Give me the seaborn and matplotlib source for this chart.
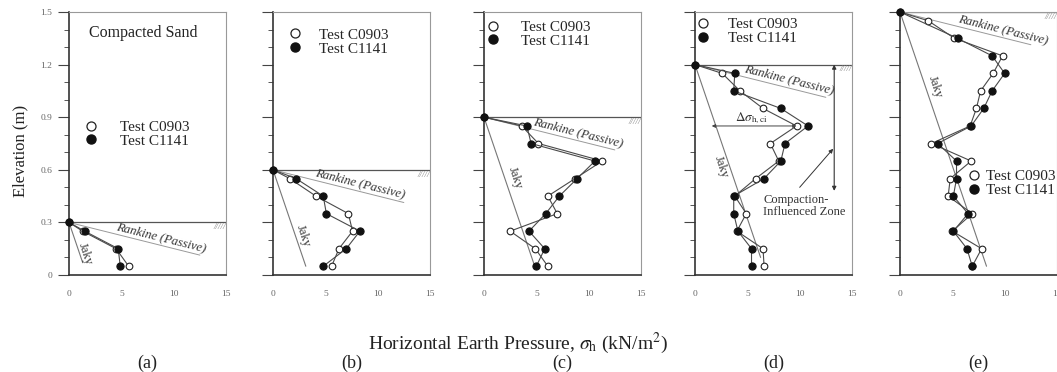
import numpy as np
import matplotlib
matplotlib.use("Agg")
import matplotlib.pyplot as plt
from matplotlib.lines import Line2D
import seaborn as sns

# ---------------- data ----------------
panel_labels = ["(a)", "(b)", "(c)", "(d)", "(e)"]
surface = [0.3, 0.6, 0.9, 1.2, 1.5]

elev_a = [0.30, 0.25, 0.15, 0.05]
c0903_a = [0, 1.3, 4.5, 5.7]
c1141_a = [0, 1.5, 4.7, 4.9]

elev_b = [0.60, 0.55, 0.45, 0.35, 0.25, 0.15, 0.05]
c0903_b = [0, 1.6, 4.1, 7.2, 7.6, 6.3, 5.6]
c1141_b = [0, 2.2, 4.8, 5.1, 8.3, 7.0, 4.8]

elev_c = [0.90, 0.85, 0.75, 0.65, 0.55, 0.45, 0.35, 0.25, 0.15, 0.05]
c0903_c = [0, 3.6, 5.2, 11.3, 8.7, 6.1, 7.0, 2.5, 4.9, 6.1]
c1141_c = [0, 4.1, 4.5, 10.6, 8.9, 7.2, 5.9, 4.3, 5.8, 5.0]

elev_d = [1.20, 1.15, 1.05, 0.95, 0.85, 0.75, 0.65, 0.55, 0.45, 0.35, 0.25, 0.15, 0.05]
c0903_d = [0, 2.6, 4.3, 6.5, 9.7, 7.2, 8.0, 5.8, 3.8, 4.9, 4.0, 6.5, 6.6]
c1141_d = [0, 3.8, 3.7, 8.2, 10.8, 8.6, 8.2, 6.6, 3.7, 3.7, 4.1, 5.4, 5.4]

elev_e_0903 = [1.50, 1.45, 1.35, 1.25, 1.15, 1.05, 0.95, 0.85, 0.75, 0.65, 0.55, 0.45, 0.35, 0.25, 0.15, 0.05]
c0903_e = [0, 2.7, 5.2, 9.8, 8.9, 7.7, 7.3, 6.7, 3.0, 6.8, 4.8, 4.6, 6.9, 5.0, 7.8, 6.9]
elev_e_1141 = [1.50, 1.35, 1.25, 1.15, 1.05, 0.95, 0.85, 0.75, 0.65, 0.55, 0.45, 0.35, 0.25, 0.15, 0.05]
c1141_e = [0, 5.5, 8.8, 10.0, 8.8, 8.0, 6.8, 3.6, 5.4, 5.4, 5.1, 6.5, 5.1, 6.4, 6.9]

series_0903 = [(c0903_a, elev_a), (c0903_b, elev_b), (c0903_c, elev_c), (c0903_d, elev_d), (c0903_e, elev_e_0903)]
series_1141 = [(c1141_a, elev_a), (c1141_b, elev_b), (c1141_c, elev_c), (c1141_d, elev_d), (c1141_e, elev_e_1141)]

jaky_slope = 5.7          # kPa per m of depth (K0 * gamma)
jaky_bottom = [0.07, 0.05, 0.05, 0.10, 0.05]
rankine_slope = 67.0      # kPa per m of depth (Kp * gamma)

legend_labels = ["Test C0903", "Test C1141"]
legend_pos = [(2.1, 0.805, 1.4), (2.1, 1.33, 1.1), (0.87, 1.375, 1.3), (0.8, 1.39, 1.1), (7.05, 0.523, 0.3)]
jaky_text = [(1.5, 0.12), (2.9, 0.225), (2.97, 0.553), (2.5, 0.615), (3.34, 1.07)]
rankine_text_x = [4.4, 3.9, 4.6, 4.6, 5.4]

# ---------------- style ----------------
sns.set_theme(style="white")
plt.rcParams["font.family"] = ["Liberation Serif", "DejaVu Serif"]
plt.rcParams["mathtext.fontset"] = "stix"

W, H = 1057, 372
fig = plt.figure(figsize=(W / 100, H / 100), dpi=100)
lefts = [69, 273, 484, 695, 900]
ax_w, top_px, bot_px = 157, 12, 275

px_x = ax_w / 15.0
px_y = (bot_px - top_px) / 1.5
rank_angle = -np.degrees(np.arctan((1.0 / rankine_slope) * px_y / px_x))
jaky_angle = -np.degrees(np.arctan(px_y / (jaky_slope * px_x)))

line_col = "#4a4a4a"
for i, x0 in enumerate(lefts):
    ax = fig.add_axes([x0 / W, 1 - bot_px / H, ax_w / W, (bot_px - top_px) / H])
    Hs = surface[i]

    # reference lines
    yb = jaky_bottom[i]
    ax.plot([0, jaky_slope * (Hs - yb)], [Hs, yb], color="#777", lw=0.8, zorder=1)
    xr = 12.5
    ax.plot([0, xr], [Hs, Hs - xr / rankine_slope], color="#999", lw=0.7, zorder=1)
    ax.axhline(Hs, color="#555", lw=0.9, zorder=1)
    ax.text(15, Hs - 0.005, "/////", ha="right", va="top", fontsize=6.5, color="#888",
            style="italic")

    # data
    xo, yo = series_0903[i]
    xf, yf = series_1141[i]
    sns.lineplot(x=xo, y=yo, sort=False, estimator=None, ax=ax, color=line_col, lw=0.8,
                 marker="o", markersize=4.8, markerfacecolor="white", markeredgecolor="#222",
                 markeredgewidth=0.8, clip_on=False, zorder=3)
    sns.lineplot(x=xf, y=yf, sort=False, estimator=None, ax=ax, color=line_col, lw=0.8,
                 marker="o", markersize=5.2, markerfacecolor="#111", markeredgecolor="#111",
                 clip_on=False, zorder=4)

    # text annotations
    xt = rankine_text_x[i]
    ax.text(xt, Hs - xt / rankine_slope + 0.012, "Rankine (Passive)", rotation=rank_angle,
            rotation_mode="anchor", ha="left", va="bottom", fontsize=9.2, style="italic",
            color="#333")
    jx, jy = jaky_text[i]
    ax.text(jx, jy, "Jaky", rotation=jaky_angle, rotation_mode="anchor", ha="center",
            va="center", fontsize=9, color="#333")

    # legend
    mx, my, tp = legend_pos[i]
    handles = [Line2D([], [], ls="none", marker="o", ms=6.5, mfc="white", mec="#222", mew=0.9),
               Line2D([], [], ls="none", marker="o", ms=6.5, mfc="#111", mec="#111")]
    hl = 1.0
    fs = 11
    off = 0.5 * hl * fs / 0.72 / px_x
    ax.legend(handles, legend_labels, loc="center left", bbox_to_anchor=(mx - off, my),
              bbox_transform=ax.transData, frameon=False, handlelength=hl, handletextpad=tp,
              borderpad=0, borderaxespad=0, labelspacing=0.0, fontsize=fs)

    # axes
    ax.set_xlim(0, 15)
    ax.set_ylim(0, 1.5)
    ax.set_xticks([0, 5, 10, 15])
    ax.set_xticks([2.5, 7.5, 12.5], minor=True)
    ax.set_yticks([0, 0.3, 0.6, 0.9, 1.2, 1.5])
    ax.set_yticks(np.arange(0, 1.51, 0.1), minor=True)
    ax.tick_params(axis="x", which="major", direction="out", length=3, width=0.8, pad=8,
                   labelsize=6.8, labelcolor="#666", color="#444")
    ax.tick_params(axis="x", which="minor", direction="out", length=2, width=0.6, color="#666")
    ax.tick_params(axis="y", which="major", direction="out", length=8, width=0.8, pad=4,
                   labelsize=6.8, labelcolor="#666", color="#444", left=True)
    ax.tick_params(axis="y", which="minor", direction="out", length=3.6, width=0.7,
                   color="#555", left=True)
    ax.set_xticklabels(["0", "5", "10", "15"])
    if i == 0:
        ax.set_yticklabels(["0", "0.3", "0.6", "0.9", "1.2", "1.5"])
        ax.set_ylabel("Elevation (m)", fontsize=12, color="#222")
        ax.yaxis.set_label_coords(-0.26, 0.47)
        ax.text(1.9, 1.38, "Compacted Sand", fontsize=11.5, color="#222", va="center")
    else:
        ax.set_yticklabels([])
        ax.set_ylabel("")
    ax.set_xlabel("")
    for s in ["left", "bottom"]:
        ax.spines[s].set_color("#333")
        ax.spines[s].set_linewidth(1.2)
    for s in ["top", "right"]:
        ax.spines[s].set_color("#999")
        ax.spines[s].set_linewidth(0.8)
    ax.set_facecolor("none")

    if i == 3:
        ax.annotate("", xy=(13.3, 1.2), xytext=(13.3, 0.48),
                    arrowprops=dict(arrowstyle="<|-|>", color="#333", lw=0.8,
                                    mutation_scale=6, shrinkA=0, shrinkB=0))
        ax.annotate("", xy=(13.2, 0.72), xytext=(10.0, 0.5),
                    arrowprops=dict(arrowstyle="-|>", color="#333", lw=0.7,
                                    mutation_scale=6, shrinkA=0, shrinkB=0))
        ax.text(6.5, 0.395, "Compaction-\nInfluenced Zone", fontsize=9, color="#333",
                va="center", ha="left", linespacing=1.0)
        ax.annotate("", xy=(1.6, 0.85), xytext=(9.7, 0.85),
                    arrowprops=dict(arrowstyle="<|-|>", color="#444", lw=0.7,
                                    mutation_scale=5, shrinkA=0, shrinkB=0))
        ax.text(3.8, 0.895, r"$\Delta\sigma_{\mathrm{h,ci}}$", fontsize=9.5, color="#333",
                va="center", ha="left")

    ax.text(0.5, -0.335, panel_labels[i], transform=ax.transAxes, ha="center", va="center",
            fontsize=13, color="#222")

fig.text(518 / W, 1 - 343 / H, r"Horizontal Earth Pressure, $\sigma_\mathrm{h}$ (kN/m$^2$)",
         ha="center", va="center", fontsize=14, color="#222")

fig.savefig("out.png", dpi=100)
